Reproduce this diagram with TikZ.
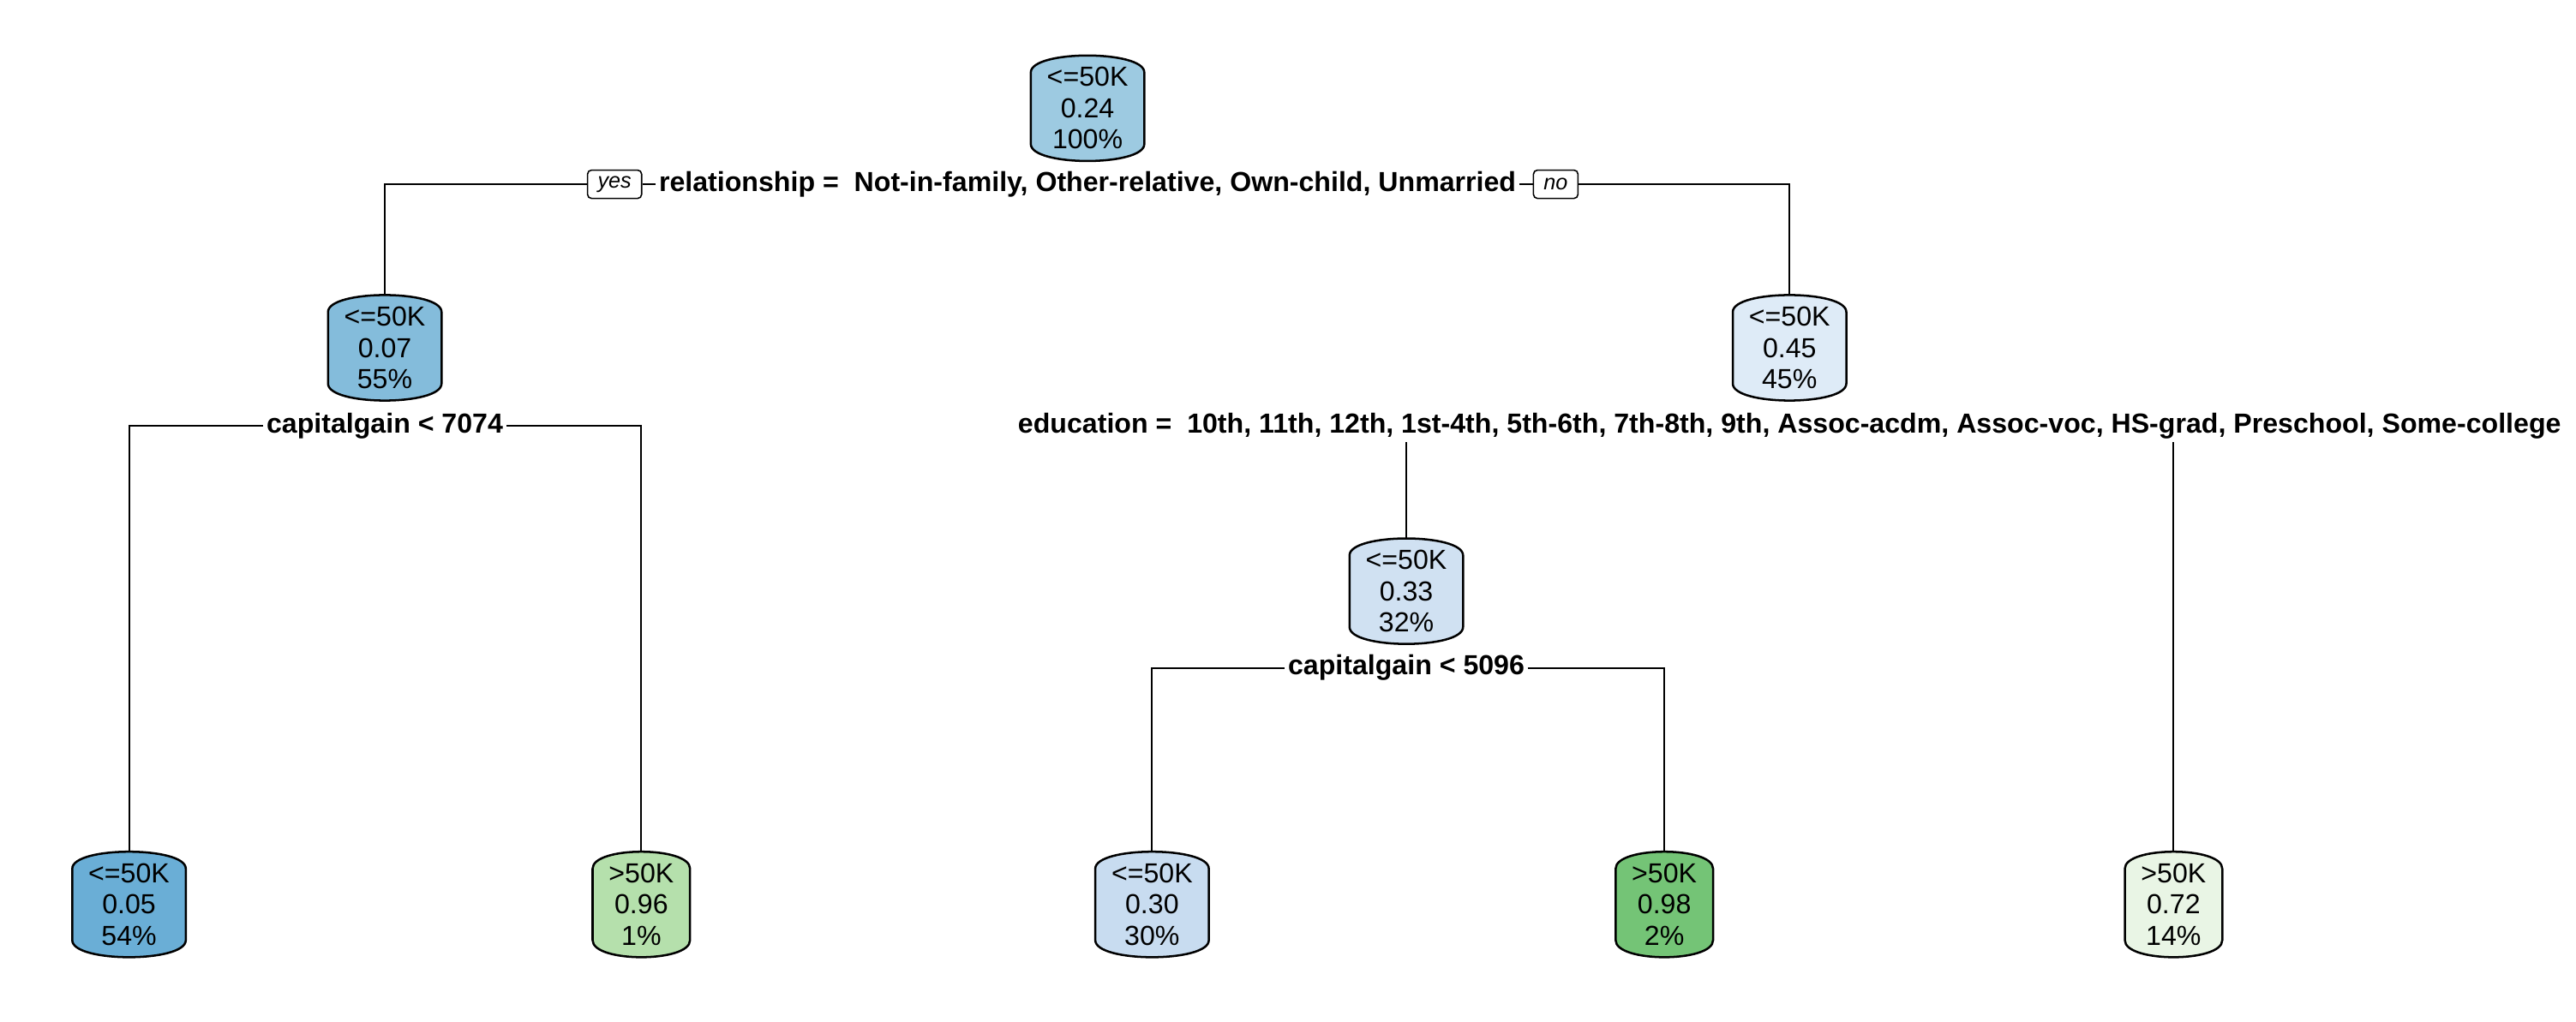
\documentclass[tikz,border=0pt]{standalone}
\usepackage{fontspec}
\setmainfont{Liberation Sans}
\usetikzlibrary{positioning,backgrounds}

\definecolor{cRoot}{HTML}{9DCAE1}
\definecolor{cFamYes}{HTML}{84BCDB}
\definecolor{cGainLoA}{HTML}{6AAED6}
\definecolor{cFamNo}{HTML}{DEEBF7}
\definecolor{cEduYes}{HTML}{D0E1F2}
\definecolor{cGainLoB}{HTML}{C8DCF0}
\definecolor{cGainHiA}{HTML}{B5E0AC}
\definecolor{cGainHiB}{HTML}{74C476}
\definecolor{cEduNo}{HTML}{E9F5E5}

\begin{document}
\begin{tikzpicture}[
    box/.style={align=center, inner xsep=5.8pt, inner ysep=0pt, minimum height=1.36cm,
        font=\fontsize{10.2}{11.6}\selectfont},
    barrel/.style={draw=black, line width=0.8pt},
    split/.style={font=\fontsize{10.2}{12}\selectfont\bfseries, fill=white, inner sep=1pt},
    yesno/.style={draw, fill=white, rounded corners=1.5pt, line width=0.5pt,
        font=\fontsize{8}{9}\selectfont\itshape, inner xsep=3.8pt, inner ysep=0pt,
        minimum height=10.5pt},
    edge/.style={line width=0.6pt}
]
    \useasboundingbox (0,0) rectangle (33.54,13.30);
    % Nos
    \node[box] (root) at (14.16, 11.89) {<=50K\\0.24\\100\%};
    \node[box] (famYes) at (5.01, 8.77) {<=50K\\0.07\\55\%};
    \node[box] (famNo) at (23.30, 8.77) {<=50K\\0.45\\45\%};
    \node[box] (eduYes) at (18.31, 5.60) {<=50K\\0.33\\32\%};
    \node[box] (gainLoA) at (1.68, 1.52) {<=50K\\0.05\\54\%};
    \node[box] (gainHiA) at (8.35, 1.52) {>50K\\0.96\\1\%};
    \node[box] (gainLoB) at (15.00, 1.52) {<=50K\\0.30\\30\%};
    \node[box] (gainHiB) at (21.67, 1.52) {>50K\\0.98\\2\%};
    \node[box] (eduNo) at (28.30, 1.52) {>50K\\0.72\\14\%};
    % Regras
    \node[split] (relSplit) at (14.16, 10.90)
        {relationship = \ Not-in-family, Other-relative, Own-child, Unmarried};
    \node[yesno, left=5pt of relSplit] (yes) {yes};
    \node[yesno, right=5pt of relSplit] (no) {no};
    \node[split] (gainSplitA) at (5.01, 7.75) {capitalgain < 7074};
    \node[split] (eduSplit) at (23.30, 7.75)
        {education = \ 10th, 11th, 12th, 1st-4th, 5th-6th, 7th-8th, 9th, Assoc-acdm, Assoc-voc, HS-grad, Preschool, Some-college};
    \node[split] (gainSplitB) at (18.31, 4.60) {capitalgain < 5096};
    % Ligacoes
    \draw[edge] (famYes.north) |- (yes.west);
    \draw[edge] (yes) -- (relSplit);
    \draw[edge] (relSplit) -- (no);
    \draw[edge] (no.east) -| (famNo.north);
    \draw[edge] (gainLoA.north) |- (gainSplitA.west);
    \draw[edge] (gainSplitA.east) -| (gainHiA.north);
    \draw[edge] (eduSplit.south -| eduYes.north) -- (eduYes.north);
    \draw[edge] (eduSplit.south -| eduNo.north) -- (eduNo.north);
    \draw[edge] (gainLoB.north) |- (gainSplitB.west);
    \draw[edge] (gainSplitB.east) -| (gainHiB.north);
    % Caixas
    \begin{scope}[on background layer]
    \foreach \n/\c in {root/cRoot, famYes/cFamYes, famNo/cFamNo, eduYes/cEduYes,
        gainLoA/cGainLoA, gainHiA/cGainHiA, gainLoB/cGainLoB, gainHiB/cGainHiB, eduNo/cEduNo}
        \draw[barrel, fill=\c] ([yshift=-6.3pt]\n.north west)
            .. controls ([yshift=2.1pt]\n.north west) and ([yshift=2.1pt]\n.north east)
            .. ([yshift=-6.3pt]\n.north east) -- ([yshift=6.3pt]\n.south east)
            .. controls ([yshift=-2.1pt]\n.south east) and ([yshift=-2.1pt]\n.south west)
            .. ([yshift=6.3pt]\n.south west) -- cycle;
    \end{scope}
\end{tikzpicture}
\end{document}
